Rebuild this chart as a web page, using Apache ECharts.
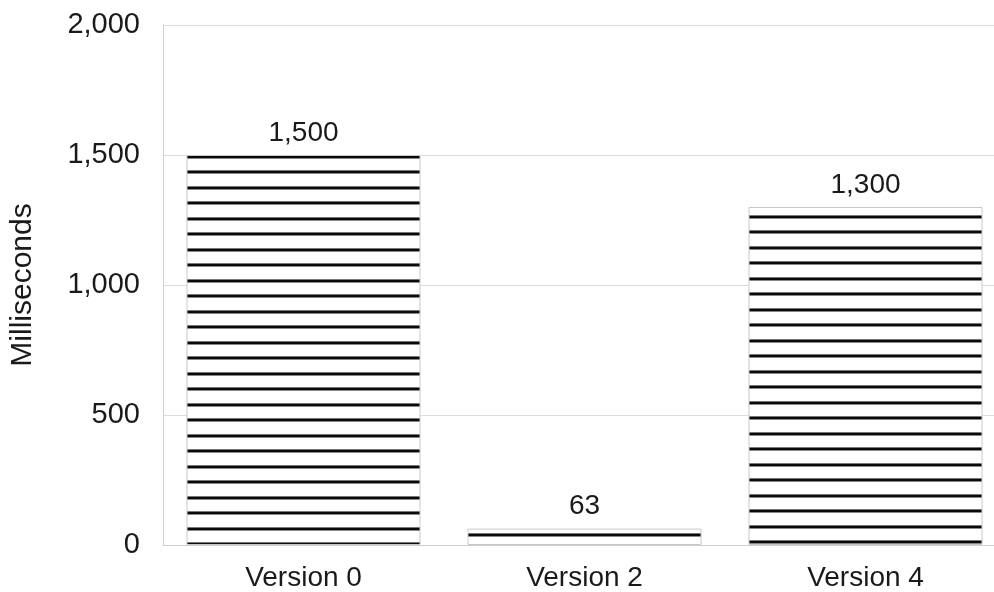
<!DOCTYPE html>
<html><head><meta charset="utf-8">
<script src="https://cdn.jsdelivr.net/npm/echarts@6/dist/echarts.min.js"></script>
<style>html,body{margin:0;padding:0;background:#fff}#c{width:994px;height:592px}</style>
</head><body><div id="c"></div>
<script>
const categories = ['Version 0', 'Version 2', 'Version 4'];
const values = [1500, 63, 1300];
const yTicks = [0, 500, 1000, 1500, 2000];
const axisName = 'Milliseconds';

function makeTile() {
  const c = document.createElement('canvas');
  c.width = 4; c.height = 31;
  const g = c.getContext('2d');
  g.fillStyle = '#fff'; g.fillRect(0, 0, 4, 31);
  const line = (y) => {
    g.fillStyle = '#777'; g.fillRect(0, y, 4, 1);
    g.fillStyle = '#0a0a0a'; g.fillRect(0, y + 1, 4, 2);
    g.fillStyle = '#888'; g.fillRect(0, y + 3, 4, 1);
  };
  line(0); line(15);
  return c;
}
const tile = makeTile();
const offsets = [0, 6, 29];

const chart = echarts.init(document.getElementById('c'), null, {renderer: 'canvas'});
const FONT = '"Liberation Sans", Arial, Helvetica, sans-serif';
chart.setOption({
  animation: false,
  grid: {left: 163, top: 25, right: -12, bottom: 47, containLabel: false, outerBoundsMode: 'none'},
  xAxis: {
    type: 'category', data: categories,
    axisLine: {lineStyle: {color: '#cfcfcf', width: 1}},
    axisTick: {show: false},
    axisLabel: {fontSize: 28, color: '#1a1a1a', fontFamily: FONT, margin: 19}
  },
  yAxis: {
    type: 'value', min: yTicks[0], max: yTicks[yTicks.length - 1], interval: 500,
    name: axisName, nameLocation: 'middle', nameGap: 125, nameRotate: 90,
    nameTextStyle: {fontSize: 30, color: '#1a1a1a', fontFamily: FONT},
    axisLine: {show: true, lineStyle: {color: '#cfcfcf', width: 1}},
    axisTick: {show: false},
    splitLine: {lineStyle: {color: '#dcdcdc', width: 1}},
    axisLabel: {fontSize: 29, color: '#1a1a1a', fontFamily: FONT, margin: 23,
      formatter: v => v.toLocaleString('en-US')}
  },
  series: [{
    type: 'bar', barWidth: 234,
    data: values.map((v, i) => ({
      value: v,
      itemStyle: {color: {image: tile, repeat: 'repeat', x: 0, y: offsets[i]}}
    })),
    itemStyle: {borderColor: '#c8c8c8', borderWidth: 1},
    label: {show: true, position: 'top', distance: 8, fontSize: 28, color: '#1a1a1a',
      fontFamily: FONT, formatter: p => p.value.toLocaleString('en-US')}
  }]
});
</script></body></html>
